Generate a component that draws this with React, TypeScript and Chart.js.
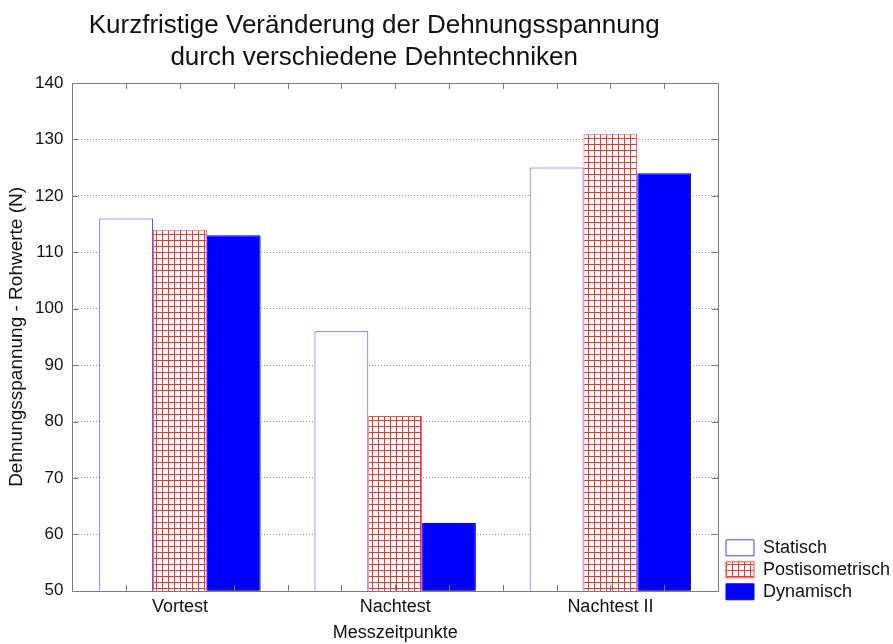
import React, { useEffect, useRef } from "react";
import { Chart, registerables } from "chart.js";

Chart.register(...registerables);

const categories = ["Vortest", "Nachtest", "Nachtest II"];
const statisch = [116, 96, 125];
const postisometrisch = [114, 81, 131];
const dynamisch = [113, 62, 124];
const yTicks = [50, 60, 70, 80, 90, 100, 110, 120, 130, 140];
const titleLines = ["Kurzfristige Veränderung der Dehnungsspannung", "durch verschiedene Dehntechniken"];
const seriesNames = ["Statisch", "Postisometrisch", "Dynamisch"];

const FONT = "'Liberation Sans', Arial, Helvetica, sans-serif";

function makeGridPattern(): CanvasPattern | string {
  const c = document.createElement("canvas");
  c.width = 6;
  c.height = 6;
  const g = c.getContext("2d");
  if (!g) return "#ff4040";
  g.fillStyle = "#ffffff";
  g.fillRect(0, 0, 6, 6);
  g.fillStyle = "#ff3030";
  g.fillRect(0, 0, 6, 1);
  g.fillRect(0, 0, 1, 6);
  const p = g.createPattern(c, "repeat");
  return p || "#ff4040";
}

const framePlugin = {
  id: "frameTicks",
  afterLayout(chart: any) {
    // nudge legend block slightly below the plot bottom and the title left, as in the reference
    if (chart.legend) {
      chart.legend.top += 14;
      chart.legend.bottom += 14;
    }
    if (chart.titleBlock) {
      chart.titleBlock.left -= 42;
    }
  },
  afterDatasetsDraw(chart: any) {
    const { ctx, chartArea } = chart;
    const y = chart.scales.y;
    const { left, right, top, bottom } = chartArea;
    ctx.save();
    ctx.strokeStyle = "#7a7a7a";
    ctx.lineWidth = 1;
    ctx.beginPath();
    ctx.rect(Math.round(left) + 0.5, Math.round(top) + 0.5, Math.round(right - left), Math.round(bottom - top));
    ctx.stroke();
    const len = 6;
    ctx.beginPath();
    yTicks.forEach((v) => {
      const py = Math.round(y.getPixelForValue(v)) + 0.5;
      ctx.moveTo(left, py);
      ctx.lineTo(left + len, py);
      ctx.moveTo(right, py);
      ctx.lineTo(right - len, py);
    });
    const n = categories.length * 4;
    for (let j = 1; j < n; j++) {
      const px = Math.round(left + ((right - left) * j) / n) + 0.5;
      ctx.moveTo(px, bottom);
      ctx.lineTo(px, bottom - len);
      ctx.moveTo(px, top);
      ctx.lineTo(px, top + len);
    }
    ctx.stroke();
    ctx.restore();
  },
};

export default function App() {
  const ref = useRef<HTMLCanvasElement | null>(null);
  useEffect(() => {
    if (!ref.current) return;
    Chart.defaults.font.family = FONT;
    Chart.defaults.color = "#111";
    const pattern = makeGridPattern();
    const chart = new Chart(ref.current, {
      type: "bar",
      data: {
        labels: categories,
        datasets: [
          {
            label: seriesNames[0],
            data: statisch,
            backgroundColor: "#ffffff",
            borderColor: "#4646ff",
            borderWidth: 1,
            borderSkipped: "bottom",
          },
          {
            label: seriesNames[1],
            data: postisometrisch,
            backgroundColor: pattern as any,
            borderColor: "#ff5050",
            borderWidth: 1,
            borderSkipped: "bottom",
          },
          {
            label: seriesNames[2],
            data: dynamisch,
            backgroundColor: "#0000ff",
            borderColor: "#0000ff",
            borderWidth: 1,
            borderSkipped: "bottom",
          },
        ],
      },
      options: {
        animation: false,
        responsive: false,
        devicePixelRatio: 1,
        layout: { padding: { left: 0, right: 0, top: 0, bottom: 0 } },
        datasets: { bar: { categoryPercentage: 0.75, barPercentage: 1.0 } },
        scales: {
          x: {
            offset: true,
            grid: { display: false, drawTicks: false, tickLength: 0 },
            border: { display: false },
            ticks: { font: { size: 18 }, color: "#111", padding: 5 },
            title: { display: true, text: "Messzeitpunkte", font: { size: 18 }, color: "#111", padding: { top: 0, bottom: 0 } },
          },
          y: {
            min: 50,
            max: 140,
            afterBuildTicks: (axis: any) => {
              axis.ticks = yTicks.map((v) => ({ value: v }));
            },
            grid: {
              color: (c: any) => (c.tick && (c.tick.value === 50 || c.tick.value === 140) ? "rgba(0,0,0,0)" : "#8a8a8a"),
              drawTicks: false,
              tickLength: 0,
              lineWidth: 1,
            },
            border: { display: false, dash: [1, 2] },
            ticks: { font: { size: 17 }, color: "#111", padding: 9 },
            title: {
              display: true,
              text: "Dehnungsspannung - Rohwerte (N)",
              font: { size: 19, lineHeight: 1 },
              color: "#111",
              padding: { top: 7, bottom: 0 },
            },
          },
          y2: {
            position: "right",
            display: true,
            grid: { display: false, drawTicks: false, tickLength: 0 },
            border: { display: false },
            ticks: { display: false },
            afterFit: (axis: any) => {
              axis.width = 4;
            },
          },
        },
        plugins: {
          title: {
            display: true,
            text: titleLines,
            fullSize: false,
            font: { size: 26, weight: "normal", lineHeight: 1.23 },
            color: "#111",
            padding: { top: 10, bottom: 9 },
          },
          legend: {
            position: "right",
            align: "end",
            fullSize: false,
            maxWidth: 171,
            labels: {
              boxWidth: 28,
              boxHeight: 16,
              font: { size: 18 },
              color: "#111",
              padding: 4,
            },
          },
          tooltip: { enabled: false },
        },
      },
      plugins: [framePlugin],
    } as any);
    return () => chart.destroy();
  }, []);
  return (
    <div style={{ position: "absolute", left: 0, top: 0, width: 893, height: 644, background: "#fff" }}>
      <canvas ref={ref} width={893} height={644} />
    </div>
  );
}
